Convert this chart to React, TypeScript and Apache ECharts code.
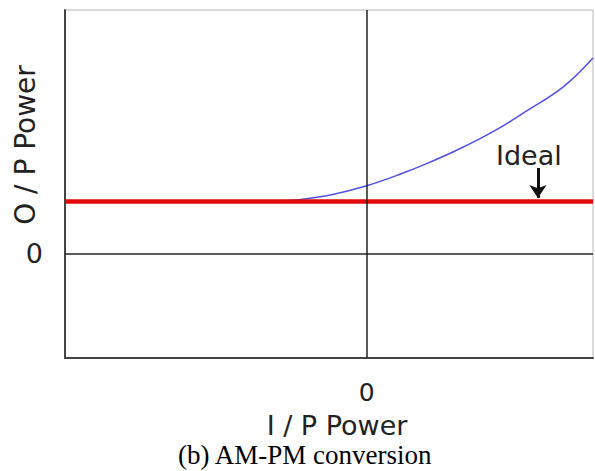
import React, { useEffect, useRef } from "react";
import * as echarts from "echarts";

const curveX = [-1.25, -0.9, -0.45, 0, 0.44, 0.81, 1.24, 1.71, 2.12, 2.61, 3.0];
const curveY = [1.5, 1.55, 1.7, 1.95, 2.28, 2.6, 3.02, 3.55, 4.1, 4.8, 5.62];
const idealX = [-4, 3];
const idealY = [1.5, 1.5];
const xName = "I / P Power";
const yName = "O / P Power";
const caption = "(b) AM-PM conversion";
const idealLabel = "Ideal";
const arrowFrom = [2.27, 2.46];
const arrowTo = [2.27, 1.6];
const idealTextPos = [2.15, 2.83];

export default function App() {
  const ref = useRef<HTMLDivElement>(null);
  useEffect(() => {
    const chart = echarts.init(ref.current!, null, { renderer: "svg" });
    const sans = "DejaVu Sans";
    chart.setOption({
      animation: false,
      backgroundColor: "#ffffff",
      grid: {
        left: 65,
        top: 10,
        right: 2,
        bottom: 113,
        show: true,
        borderColor: "#b8b8b8",
        borderWidth: 1,
        containLabel: false,
        outerBoundsMode: "none",
      },
      xAxis: {
        type: "value",
        min: -4,
        max: 3,
        interval: 1,
        axisLine: { show: true, onZero: false, lineStyle: { color: "#444", width: 2 } },
        axisTick: { show: false },
        splitLine: { show: false },
        axisLabel: {
          formatter: (v: number) => (v === 0 ? "0" : ""),
          fontFamily: sans,
          fontSize: 25,
          color: "#222",
          margin: 22,
        },
        name: xName,
        nameLocation: "middle",
        nameGap: 54,
        nameMoveOverlap: false,
        nameTextStyle: { fontFamily: sans, fontSize: 27, lineHeight: 27, color: "#222", padding: [0, 0, 0, 16] },
      },
      yAxis: {
        type: "value",
        min: -3,
        max: 7,
        interval: 1,
        axisLine: { show: true, onZero: false, lineStyle: { color: "#444", width: 2 } },
        axisTick: { show: false },
        splitLine: { show: false },
        axisLabel: {
          formatter: (v: number) => (v === 0 ? "0" : ""),
          fontFamily: sans,
          fontSize: 27,
          color: "#222",
          margin: 22,
        },
        name: yName,
        nameLocation: "middle",
        nameGap: 26,
        nameRotate: 90,
        nameMoveOverlap: false,
        nameTextStyle: { fontFamily: sans, fontSize: 28, color: "#222", padding: [0, 0, 0, 78] },
      },
      graphic: [
        {
          type: "text",
          left: 178,
          top: 441,
          style: { text: caption, fontFamily: "Liberation Serif", fontSize: 27, lineHeight: 27, fill: "#000" },
        },
      ],
      series: [
        {
          type: "line",
          data: curveX.map((x, i) => [x, curveY[i]]),
          smooth: 0.4,
          symbol: "none",
          lineStyle: { color: "#5050e0", width: 1.5 },
          z: 2,
          markLine: {
            silent: true,
            symbol: "none",
            label: { show: false },
            lineStyle: { color: "#222", width: 1.5, type: "solid" },
            data: [{ xAxis: 0 }, { yAxis: 0 }],
          },
        },
        {
          type: "line",
          data: idealX.map((x, i) => [x, idealY[i]]),
          symbol: "none",
          lineStyle: { color: "#e00a0a", width: 4.5 },
          z: 3,
          markLine: {
            silent: true,
            symbol: ["none", "arrow"],
            symbolSize: [13, 13],
            label: { show: false },
            lineStyle: { color: "#111", width: 3, type: "solid" },
            data: [[{ coord: arrowFrom }, { coord: arrowTo }]],
          },
          markPoint: {
            silent: true,
            symbol: "circle",
            symbolSize: 1,
            itemStyle: { color: "transparent" },
            label: { show: true, position: "inside", formatter: idealLabel, fontFamily: sans, fontSize: 27, color: "#222" },
            data: [{ coord: idealTextPos }],
          },
        },
      ],
    });
    return () => chart.dispose();
  }, []);
  return <div ref={ref} style={{ position: "fixed", left: 0, top: 0, width: 595, height: 471 }} />;
}
